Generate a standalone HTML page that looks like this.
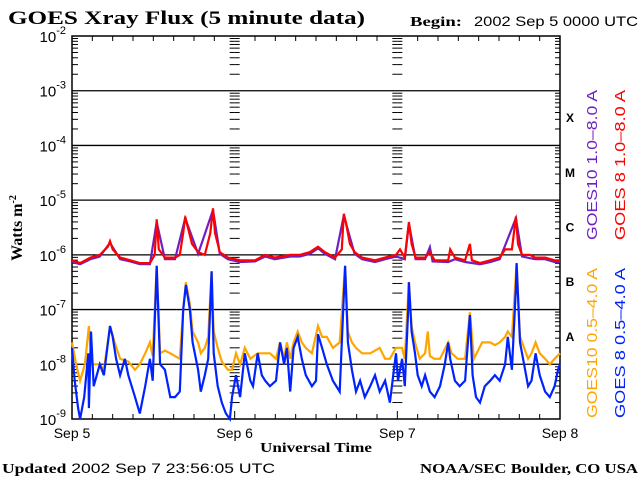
<!DOCTYPE html>
<html><head><meta charset="utf-8"><style>
body{margin:0;background:#fff;width:640px;height:480px;overflow:hidden}
svg text{font-family:"Liberation Sans",sans-serif}
.serif{font-family:"Liberation Serif",serif;font-weight:bold}
</style></head><body>
<svg id="chart" width="640" height="480" xmlns="http://www.w3.org/2000/svg">
<text class="serif" x="8" y="24" font-size="19" textLength="357" lengthAdjust="spacingAndGlyphs">GOES Xray Flux (5 minute data)</text>
<text class="serif" x="410" y="26" font-size="14" textLength="52" lengthAdjust="spacingAndGlyphs">Begin:</text>
<text x="474" y="26" font-size="14" textLength="164" lengthAdjust="spacingAndGlyphs">2002 Sep 5 0000 UTC</text>
<text class="serif" font-size="16" transform="translate(22,228) rotate(-90)" text-anchor="middle">Watts m<tspan font-size="10" dy="-6">-2</tspan></text>
<text class="serif" x="316" y="452" font-size="14" text-anchor="middle" textLength="112" lengthAdjust="spacingAndGlyphs">Universal Time</text>
<text x="2" y="473" font-size="14" textLength="273" lengthAdjust="spacingAndGlyphs"><tspan class="serif">Updated</tspan> 2002 Sep  7 23:56:05 UTC</text>
<text class="serif" x="420" y="473" font-size="14" textLength="218" lengthAdjust="spacingAndGlyphs">NOAA/SEC Boulder, CO USA</text>
<g id="grid"></g><g id="series"></g><g id="labels"></g>
</svg>
<script>
const dayLabels=["Sep 5","Sep 6","Sep 7","Sep 8"];
const decadeExps=[-2,-3,-4,-5,-6,-7,-8,-9];
const classLabels=["X","M","C","B","A"];
const classExps=[-3.5,-4.5,-5.5,-6.5,-7.5];
const g8lTimes=[0,1.2,2.7,4.1,5.3,5.6,6.0,7.1,8.6,10.0,11.5,12.2,12.5,12.8,13.7,15.2,15.9,16.4,16.7,17.1,17.7,18.6,19.6,20.4,20.8,21.1,21.8,23.0,24.8,27.0,28.5,29.9,32.2,33.6,35.1,36.3,37.3,38.8,39.8,40.1,40.4,41.0,41.7,42.8,44.7,46.2,47.8,48.4,49.1,49.7,50.1,50.7,52.1,52.8,53.5,55.5,55.8,56.5,58.0,58.7,59.0,60.2,61.7,63.1,63.9,64.9,65.5,65.8,66.4,67.6,68.3,69.8,71.2,72];
const g8lLog=[-6.1,-6.15,-6.05,-6.0,-5.85,-5.75,-5.9,-6.05,-6.1,-6.15,-6.15,-6.0,-5.35,-5.9,-6.05,-6.05,-6.0,-5.6,-5.3,-5.5,-5.8,-5.95,-6.0,-5.6,-5.15,-5.6,-5.95,-6.05,-6.1,-6.1,-6.0,-6.05,-6.0,-6.0,-5.95,-5.85,-5.95,-6.05,-5.9,-5.25,-5.4,-5.8,-5.95,-6.05,-6.1,-6.05,-6.0,-5.9,-6.05,-5.4,-5.8,-6.05,-6.05,-5.95,-6.1,-6.1,-5.9,-6.05,-6.1,-5.8,-6.1,-6.15,-6.1,-6.05,-5.9,-5.9,-5.3,-5.8,-6.0,-6.0,-6.05,-6.05,-6.1,-6.1];
const g10lTimes=[0,1.2,2.7,4.1,5.6,7.1,8.6,10.0,11.5,12.5,13.7,15.2,16.7,18.6,20.8,21.8,23.0,24.8,27.0,28.5,29.9,32.2,33.6,35.1,36.3,37.3,38.8,40.1,41.7,42.8,44.7,46.2,47.8,49.1,49.7,50.7,52.1,52.8,53.2,55.5,56.5,58.0,60.2,61.7,63.1,65.5,66.4,68.3,69.8,71.2,72];
const g10lLog=[-6.13,-6.17,-6.08,-6.03,-5.78,-6.08,-6.12,-6.17,-6.17,-5.4,-6.08,-6.08,-5.33,-5.98,-5.18,-5.98,-6.08,-6.13,-6.12,-6.03,-6.08,-6.03,-6.03,-5.98,-5.88,-5.98,-6.08,-5.28,-5.98,-6.08,-6.13,-6.08,-6.03,-6.08,-5.43,-6.08,-6.08,-5.86,-6.12,-6.13,-6.08,-6.13,-6.17,-6.13,-6.08,-5.33,-6.03,-6.08,-6.08,-6.13,-6.13];
const g10sTimes=[0,0.6,1.2,1.9,2.5,2.9,4.1,4.7,5.6,6.3,7.1,8.3,9.3,10.0,10.8,11.5,11.9,12.5,13.0,13.7,14.5,15.2,15.9,16.4,16.8,17.4,17.8,18.6,19.0,19.6,20.1,20.6,20.9,21.5,22.1,23.0,23.6,24.2,24.8,25.5,26.3,27.4,28.5,29.2,30.1,30.7,31.3,31.7,32.2,32.7,33.3,33.9,34.5,35.4,36.3,36.9,37.6,38.5,39.5,40.3,40.7,41.3,41.9,42.8,44.0,45.4,46.2,46.9,47.8,48.7,49.1,49.7,50.1,50.6,51.3,52.1,52.5,52.8,53.5,54.3,55.5,56.0,56.9,58.0,58.7,59.3,59.9,60.5,61.7,62.4,63.1,63.9,64.3,64.9,65.6,66.1,66.7,67.3,67.8,68.4,69.0,69.8,70.5,71.2,72];
const g10sLog=[-7.6,-8.0,-8.3,-8.0,-7.3,-8.0,-8.0,-8.1,-7.3,-7.6,-7.9,-7.95,-8.1,-8.0,-7.8,-7.6,-7.85,-6.2,-7.8,-7.75,-7.8,-7.85,-7.9,-7.0,-6.5,-6.9,-7.4,-7.6,-7.8,-7.7,-7.5,-6.3,-7.4,-7.7,-7.95,-8.1,-8.1,-7.8,-8.0,-7.7,-7.9,-7.8,-7.8,-7.8,-7.9,-7.6,-7.9,-7.6,-7.9,-7.6,-7.4,-7.6,-7.7,-7.8,-7.3,-7.5,-7.5,-7.7,-7.6,-6.2,-7.4,-7.6,-7.7,-7.8,-7.8,-7.7,-7.9,-7.9,-7.7,-7.7,-7.9,-6.5,-7.3,-7.6,-7.9,-7.8,-7.4,-7.85,-7.9,-7.9,-7.6,-7.8,-7.9,-7.9,-7.05,-7.9,-7.75,-7.6,-7.6,-7.65,-7.6,-7.5,-7.4,-7.5,-6.15,-7.5,-7.7,-7.9,-7.8,-7.6,-7.8,-7.9,-8.0,-7.9,-7.8];
const g8sTimes=[0,0.4,0.9,1.2,1.8,2.4,2.5,2.8,3.2,4.1,4.7,5.6,6.0,6.5,7.1,7.8,8.3,9.3,10.0,10.8,11.5,11.9,12.5,13.0,13.7,14.5,15.2,15.9,16.4,16.8,17.4,17.8,18.6,19.0,19.6,20.1,20.6,20.9,21.5,22.1,22.7,23.3,23.6,24.2,24.8,25.5,26.3,26.7,27.4,28.0,28.5,29.2,30.1,30.7,31.3,31.7,32.2,32.7,33.3,33.9,34.5,35.4,36.0,36.3,36.9,37.6,38.5,39.5,40.3,40.7,41.3,41.9,42.5,43.2,44.0,44.7,45.4,46.2,46.9,47.5,47.8,48.1,48.7,49.1,49.6,49.7,50.1,50.6,51.0,51.6,52.1,52.8,53.5,54.3,55.0,55.5,55.8,56.5,57.2,58.0,58.7,59.1,59.6,60.2,60.9,61.7,62.4,63.1,63.9,64.3,64.9,65.5,65.6,66.1,66.7,67.3,67.8,68.4,69.0,69.8,70.5,71.2,71.7,72];
const g8sLog=[-7.7,-8.3,-8.8,-9.0,-8.6,-7.8,-8.8,-7.4,-8.4,-8.0,-8.2,-7.3,-7.5,-7.9,-8.2,-7.9,-8.2,-8.6,-8.9,-8.4,-7.9,-8.3,-6.2,-8.0,-8.1,-8.6,-8.6,-8.5,-7.0,-6.55,-7.0,-7.6,-8.1,-8.5,-8.2,-7.9,-6.3,-7.8,-8.4,-8.7,-8.9,-9.0,-8.6,-8.2,-8.6,-7.8,-8.3,-8.4,-7.8,-8.2,-8.3,-8.4,-8.3,-7.6,-8.0,-7.7,-8.5,-7.7,-7.5,-7.9,-8.2,-8.4,-8.3,-7.45,-7.7,-8.0,-8.3,-8.5,-6.2,-7.6,-8.1,-8.5,-8.3,-8.6,-8.4,-8.2,-8.5,-8.3,-8.7,-8.1,-7.8,-8.3,-7.9,-8.4,-7.0,-6.5,-7.4,-7.8,-8.2,-8.4,-8.2,-8.5,-8.6,-8.4,-8.0,-7.6,-7.9,-8.3,-8.4,-8.3,-7.1,-8.2,-8.6,-8.7,-8.4,-8.3,-8.2,-8.3,-8.0,-7.5,-8.1,-6.6,-6.15,-7.6,-8.0,-8.4,-8.3,-7.8,-8.2,-8.5,-8.6,-8.4,-8.1,-8.0];

const L=72,R=560,T=36,B=419,NS="http://www.w3.org/2000/svg";
const xS=h=>L+(R-L)*h/72;
const yS=e=>T+(B-T)*(-2-e)/7;
function mk(tag,attrs,parent){const el=document.createElementNS(NS,tag);for(const k in attrs)el.setAttribute(k,attrs[k]);parent.appendChild(el);return el;}
const grid=document.getElementById('grid'),ser=document.getElementById('series'),lab=document.getElementById('labels');
const frame=mk('rect',{x:L,y:T,width:R-L,height:B-T,fill:'none',stroke:'#000','stroke-width':1.5},grid);


decadeExps.forEach((e,i)=>{
  const y=yS(e);
  if(i>0&&i<decadeExps.length-1){const ln=mk('line',{x1:L,x2:R,y1:y,y2:y,stroke:'#000','stroke-width':1.3},grid);
    
    }
  const t=mk('text',{x:66,y:y+6,'font-size':15,'text-anchor':'end'},lab);
  
  
  t.innerHTML='10<tspan font-size="11" dy="-8">'+e+'</tspan>';
  if(i<decadeExps.length-1){
    for(let m=2;m<=9;m++){const yy=yS(e-1+Math.log10(m));
      [L,xS(24),xS(48)].forEach(x0=>{const tk=mk('line',{x1:x0,x2:x0+(x0===L?6:5),y1:yy,y2:yy,stroke:'#000'},grid);
        
        });
      [xS(24),xS(48),R].forEach(x0=>{const tk=mk('line',{x1:x0-5,x2:x0,y1:yy,y2:yy,stroke:'#000'},grid);
        
        });
    }
  }
});
for(let h=3;h<72;h+=3){const x=xS(h);const len=h%24===0?0:5;
  if(len){[[B,B-len],[T,T+len]].forEach(p=>{const tk=mk('line',{x1:x,x2:x,y1:p[0],y2:p[1],stroke:'#000'},grid);
    
    });}}
dayLabels.forEach((d,i)=>{const t=mk('text',{x:xS(i*24),y:438,'font-size':14,'text-anchor':'middle'},lab);
  
  
  t.textContent=d;
  if(i>0&&i<3){const tk=mk('line',{x1:xS(i*24),x2:xS(i*24),y1:B,y2:B-8,stroke:'#000'},grid);
    
    }});
classLabels.forEach((c,i)=>{const t=mk('text',{x:570,y:yS(classExps[i])+4,'font-size':12,'text-anchor':'middle','font-family':'Liberation Serif','font-weight':'bold'},lab);
  
  
  t.textContent=c;});
function line(ts,vs,color,name){const pts=ts.map((t,i)=>xS(t).toFixed(1)+','+yS(vs[i]).toFixed(1)).join(' ');
  const p=mk('polyline',{points:pts,fill:'none',stroke:color,'stroke-width':2.2},ser);
  
  }
line(g10sTimes,g10sLog,'#ffa500','series-goes10-short');
line(g8sTimes,g8sLog,'#0022ff','series-goes8-short');
line(g10lTimes,g10lLog,'#7020c0','series-goes10-long');
line(g8lTimes,g8lLog,'#ff0000','series-goes8-long');
const legends=[["GOES10 1.0\u20138.0 A","#7020c0",597,165,"legend-goes10-long"],["GOES 8 1.0\u20138.0 A","#ff0000",625,165,"legend-goes8-long"],["GOES10 0.5\u20134.0 A","#ffa500",597,343,"legend-goes10-short"],["GOES 8 0.5\u20134.0 A","#0022ff",625,343,"legend-goes8-short"]];
legends.forEach(l=>{const t=mk('text',{transform:`translate(${l[2]},${l[3]}) rotate(-90)`,'font-size':15,'text-anchor':'middle',fill:l[1],textLength:150,lengthAdjust:'spacingAndGlyphs'},lab);
  
  
  t.textContent=l[0];});
</script>
</body></html>
